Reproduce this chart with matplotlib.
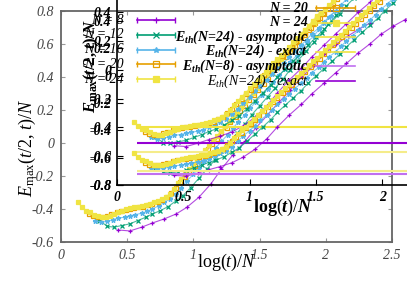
import numpy as np
import matplotlib
matplotlib.use("Agg")
import matplotlib.pyplot as plt
from matplotlib.lines import Line2D

plt.rcParams["font.family"] = ["Liberation Serif", "DejaVu Serif"]
plt.rcParams["mathtext.fontset"] = "custom"
plt.rcParams["mathtext.rm"] = "Liberation Serif"
plt.rcParams["mathtext.it"] = "Liberation Serif:italic"
plt.rcParams["mathtext.bf"] = "Liberation Serif:bold"
plt.rcParams["mathtext.bfit"] = "Liberation Serif:bold:italic"

# data: E_max(t/2,t)/N vs log(t)/N for each system size
x8 = [0.43, 0.52, 0.61, 0.69, 0.78, 0.87, 0.95, 1.04, 1.13, 1.21, 1.30, 1.39,
      1.47, 1.56, 1.65, 1.73, 1.82, 1.91, 1.99, 2.08, 2.17, 2.25, 2.34]
y8 = [-0.527, -0.533, -0.51, -0.485, -0.46, -0.43, -0.39, -0.33, -0.25, -0.16,
      -0.07, 0.01, 0.09, 0.17, 0.25, 0.32, 0.40, 0.47, 0.54, 0.60, 0.65, 0.69, 0.73]

x12 = [0.29, 0.35, 0.40, 0.46, 0.52, 0.58, 0.64, 0.69, 0.75, 0.81, 0.87, 0.92,
       0.98, 1.04, 1.10, 1.16, 1.21, 1.27, 1.33, 1.39, 1.44, 1.50, 1.56, 1.62,
       1.68, 1.73, 1.79, 1.85, 1.91, 1.97, 2.02, 2.08, 2.14]
y12 = [-0.47, -0.505, -0.51, -0.50, -0.49, -0.47, -0.45, -0.43, -0.41, -0.385,
       -0.35, -0.32, -0.27, -0.215, -0.16, -0.105, -0.05, 0.005, 0.06, 0.115,
       0.17, 0.225, 0.28, 0.335, 0.39, 0.445, 0.50, 0.555, 0.61, 0.665, 0.72,
       0.775, 0.83]

x16 = [0.26, 0.30, 0.35, 0.39, 0.43, 0.48, 0.52, 0.56, 0.61, 0.65, 0.69, 0.74,
       0.78, 0.82, 0.87, 0.91, 0.95, 1.00, 1.04, 1.08, 1.13, 1.17, 1.21, 1.26,
       1.30, 1.34, 1.39, 1.43, 1.47, 1.52, 1.56, 1.60, 1.65, 1.69, 1.73, 1.78,
       1.82, 1.86, 1.91, 1.95, 1.99, 2.04, 2.08]
y16 = [-0.47, -0.48, -0.475, -0.465, -0.455, -0.45, -0.44, -0.435, -0.425, -0.415,
       -0.40, -0.38, -0.36, -0.34, -0.31, -0.27, -0.23, -0.19, -0.15, -0.11,
       -0.07, -0.03, 0.01, 0.05, 0.09, 0.13, 0.17, 0.21, 0.25, 0.29, 0.33, 0.37,
       0.41, 0.45, 0.49, 0.53, 0.57, 0.61, 0.65, 0.69, 0.73, 0.77, 0.81]

x20 = [0.21, 0.24, 0.28, 0.31, 0.35, 0.38, 0.42, 0.45, 0.49, 0.52, 0.55, 0.59,
       0.62, 0.66, 0.69, 0.73, 0.76, 0.80, 0.83, 0.87, 0.90, 0.94, 0.97, 1.01,
       1.04, 1.07, 1.11, 1.14, 1.18, 1.21, 1.25, 1.28, 1.32, 1.35, 1.39, 1.42,
       1.46, 1.49, 1.53, 1.56, 1.59, 1.63, 1.66, 1.70, 1.73, 1.77, 1.80, 1.84,
       1.87, 1.91, 1.94, 1.98, 2.01]
y20 = [-0.43, -0.445, -0.45, -0.45, -0.44, -0.43, -0.42, -0.41, -0.405, -0.40,
       -0.395, -0.39, -0.385, -0.378, -0.37, -0.36, -0.345, -0.33, -0.30, -0.27,
       -0.237, -0.204, -0.171, -0.138, -0.105, -0.072, -0.039, -0.006, 0.027,
       0.06, 0.093, 0.126, 0.159, 0.192, 0.225, 0.258, 0.291, 0.324, 0.357, 0.39,
       0.423, 0.456, 0.489, 0.522, 0.555, 0.588, 0.621, 0.654, 0.687, 0.72,
       0.753, 0.786, 0.819]

x24 = [0.13, 0.16, 0.19, 0.22, 0.25, 0.28, 0.31, 0.34, 0.37, 0.40, 0.43, 0.46,
       0.49, 0.52, 0.55, 0.58, 0.61, 0.64, 0.67, 0.70, 0.73, 0.76, 0.79, 0.82,
       0.85, 0.88, 0.91, 0.94, 0.97, 1.00, 1.03, 1.06, 1.09, 1.12, 1.15, 1.18,
       1.21, 1.24, 1.27, 1.30, 1.33, 1.36, 1.39, 1.42, 1.45, 1.48, 1.51, 1.54,
       1.57, 1.60, 1.63, 1.66, 1.69, 1.72, 1.75, 1.78, 1.81, 1.84, 1.87, 1.90,
       1.93, 1.96, 1.99]
y24 = [-0.36, -0.39, -0.41, -0.42, -0.435, -0.445, -0.45, -0.45, -0.44, -0.43,
       -0.42, -0.41, -0.40, -0.395, -0.39, -0.385, -0.38, -0.375, -0.37, -0.36,
       -0.35, -0.34, -0.33, -0.31, -0.28, -0.245, -0.216, -0.187, -0.158, -0.129,
       -0.10, -0.071, -0.042, -0.013, 0.016, 0.045, 0.074, 0.103, 0.132, 0.161,
       0.19, 0.219, 0.248, 0.277, 0.306, 0.335, 0.364, 0.393, 0.422, 0.451,
       0.48, 0.509, 0.538, 0.567, 0.596, 0.625, 0.654, 0.683, 0.712, 0.741,
       0.77, 0.799, 0.828]

# thermal energy levels shown as horizontal lines in the inset
eth_start = 0.15
eth_a = [-0.40, -0.51, -0.572]
eth_a_colors = ["#f0e442", "#9400d3", "#f5ec8a"]
eth_c = [-0.494, -0.517]
eth_c_colors = ["#f5ec8a", "#c070f0"]

series = [
    (x8, y8, "#9400d3", "+", "N = 8"),
    (x12, y12, "#009e73", "x", "N = 12"),
    (x16, y16, "#56b4e9", "*", "N = 16"),
    (x20, y20, "#e69f00", "s", "N = 20"),
    (x24, y24, "#f0e442", "s", "N = 24"),
]
eth_entries = [
    (r"$\mathbfit{E}_{\mathbfit{th}}$(N=24) - asymptotic", "#f0e442", "bold"),
    (r"$\mathbfit{E}_{\mathbfit{th}}$(N=24) - exact", "#f0e442", "bold"),
    (r"$\mathbfit{E}_{\mathbfit{th}}$(N=8) - asymptotic", "#c070f0", "bold"),
    (r"$E_{th}$(N=24) - exact", "#9400d3", "normal"),
]


def draw_series(ax):
    for xs, ys, col, mk, lab in series:
        face = "none" if lab == "N = 20" else col
        ax.plot(xs, ys, color=col, lw=0.8, alpha=0.7)
        ax.plot(xs, ys, ls="none", marker=mk, ms=3.5, mec=col, mfc=face, mew=0.9)


W, H = 407, 285
fig = plt.figure(figsize=(W / 100, H / 100), dpi=100)


def px(x, y):
    return x / W, 1 - y / H


def legend_row(y, xt, x0, x1, label, col, mk=None, mfc=None, caps=False, **kw):
    fx0, fy = px(x0, y)
    fx1, _ = px(x1, y)
    fig.add_artist(Line2D([fx0, fx1], [fy, fy], color=col, lw=1.2,
                          transform=fig.transFigure))
    if caps:
        fig.add_artist(Line2D([fx0, fx1], [fy, fy], ls="none", marker="|", ms=5,
                              color=col, transform=fig.transFigure))
    if mk:
        fig.add_artist(Line2D([(fx0 + fx1) / 2], [fy], ls="none", marker=mk, ms=4,
                              mec=col, mfc=mfc, mew=0.9, transform=fig.transFigure))
    fig.text(*px(xt, y), label, ha="right", va="center", fontsize=10,
             style="italic", **kw)


# main axes
ax = fig.add_axes([61 / W, 1 - 242 / H, 331 / W, 231 / H])
draw_series(ax)
ax.set_xlim(0, 2.5)
ax.set_ylim(-0.6, 0.8)
ax.set_xticks([0, 0.5, 1, 1.5, 2, 2.5])
ax.set_xticklabels(["0", "0.5", "1", "1.5", "2", "2.5"])
ax.set_yticks([-0.6, -0.4, -0.2, 0, 0.2, 0.4, 0.6, 0.8])
ax.set_yticklabels(["-0.6", "-0.4", "-0.2", "0", "0.2", "0.4", "0.6", "0.8"])
ax.tick_params(direction="in", length=3, color="#999999", labelcolor="#444444",
               labelsize=10, top=True, right=True, pad=5)
for lab in ax.get_xticklabels() + ax.get_yticklabels():
    lab.set_fontstyle("italic")
for sp in ax.spines.values():
    sp.set_color("#666666")
    sp.set_linewidth(1.3)

fig.text(227 / W, 1 - 262 / H, r"$\log(t)/N$", ha="center", va="center", fontsize=13)
fig.text(27 / W, 1 - 148 / H, r"$E_{\rm max}(t/2,\,t)/N$", ha="center", va="center",
         rotation=90, fontsize=13)

# inset (drawn twice over the same box, transparent)
rect = [117 / W, 1 - 185 / H, 305 / W, 205 / H]
axa = fig.add_axes(rect)
axa.patch.set_alpha(0)
draw_series(axa)
axa.hlines(eth_a, eth_start, 2.3, colors=eth_a_colors, lw=1.5)
axa.set_xlim(0, 2.3)
axa.set_ylim(-0.8, -0.8 + 205 / 144)
axa.set_xticks([0, 0.5, 1, 1.5, 2])
axa.set_xticklabels(["0", "0.5", "1", "1.5", "2"])
axa.set_yticks([-0.8, -0.6, -0.4, -0.2, 0, 0.2, 0.4])
axa.set_yticklabels(["-0.8", "-0.6", "-0.4", "-0.2", "0", "0.2", "0.4"])
axa.tick_params(direction="in", length=4, labelsize=10, pad=4)
for lab in axa.get_xticklabels() + axa.get_yticklabels():
    lab.set_fontstyle("italic")
    lab.set_fontweight("bold")
for sp in axa.spines.values():
    sp.set_linewidth(1.2)

axb = axa.twinx()
axb.set_ylim(-0.8, -0.8 + 205 / 136.7)
axb.set_yticks([-0.8, -0.6, -0.4, -0.2, 0, 0.2, 0.4])
axb.set_yticklabels(["-0.8", "-0.6", "-0.4", "-0.2", "0", "0.2", "0.4"])
axb.yaxis.tick_left()
axb.tick_params(direction="in", length=4, labelsize=10, pad=4)
for lab in axb.get_yticklabels():
    lab.set_fontstyle("italic")
    lab.set_fontweight("bold")
for sp in axb.spines.values():
    sp.set_visible(False)

axc = fig.add_axes(rect)
axc.patch.set_alpha(0)
draw_series(axc)
axc.hlines(eth_c, eth_start, 2.3, colors=eth_c_colors, lw=1.5)
axc.set_xlim(0, 2.3)
axc.set_ylim(-0.6, -0.6 + 205 * 1.4 / 185)
axc.axis("off")

fig.text(283 / W, 1 - 207 / H, r"$\mathbf{log}(\mathbfit{t})/\mathbfit{N}$",
         ha="center", va="center", fontsize=13)
fig.text(91 / W, 1 - 66 / H,
         r"$\mathbfit{E}_{\mathbf{max}}\mathbf{(}\mathbfit{t}\mathbf{/2,\,}\mathbfit{t}\mathbf{)/}\mathbfit{N}$",
         ha="center", va="center", rotation=90, fontsize=12)

# legend at the left of the inset
for i, (_, _, col, mk, lab) in enumerate(series):
    face = "none" if lab == "N = 20" else col
    legend_row(20 + i * 14.8, 124, 137, 175, lab, col, mk, face, caps=True)

# second legend, only its lower rows fall inside the picture
row_y = 8
for _, _, col, mk, lab in series[3:]:
    face = "none" if lab == "N = 20" else col
    legend_row(row_y, 308, 316, 355, lab, col, mk, face, caps=True, weight="bold")
    row_y += 14.6
for lab, col, wt in eth_entries:
    legend_row(row_y, 308, 316, 355, lab, col, weight=wt)
    row_y += 14.6

fig.savefig("out.png", dpi=100)
